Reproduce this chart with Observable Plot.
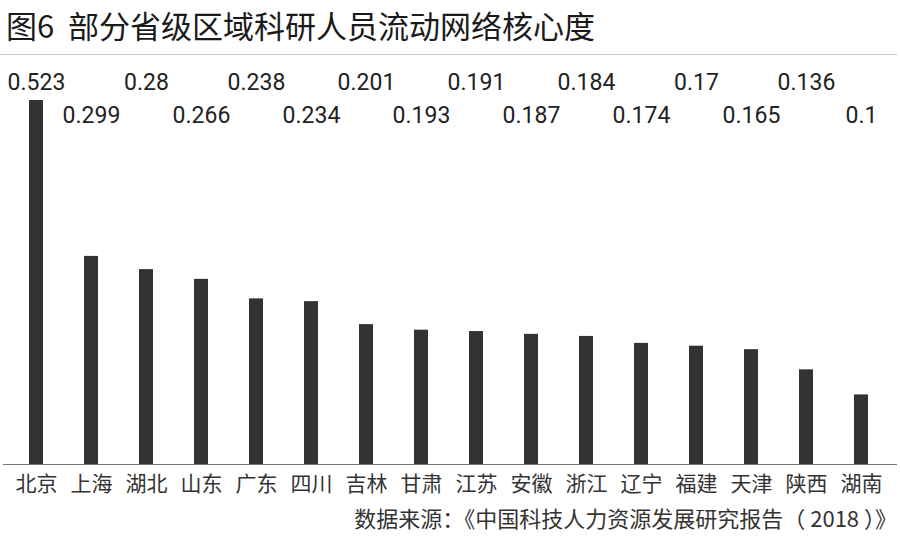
<!DOCTYPE html>
<html>
<head>
<meta charset="utf-8">
<script src="https://cdn.jsdelivr.net/npm/d3@7"></script>
<script src="https://cdn.jsdelivr.net/npm/@observablehq/plot@0.6"></script>
<style>
  body { margin: 0; background: #fff; width: 900px; height: 543px; overflow: hidden;
         font-family: "Noto Sans CJK SC", sans-serif; }
  #title { height: 54px; border-bottom: 1px solid #c9c9c9; margin-right: 3px;
           font-size: 31px; line-height: 50px; padding-left: 6px; color: #1a1a1a; font-weight: 400;
           white-space: nowrap; }
  #chart svg { display: block; }
  #caption { text-align: right; font-size: 22px; line-height: 24px; color: #333;
             padding-right: 3px; white-space: nowrap; }
</style>
</head>
<body>
<div id="title">图6&nbsp; 部分省级区域科研人员流动网络核心度</div>
<div id="chart"></div>
<div id="caption">数据来源：《中国科技人力资源发展研究报告（ 2018 ）》</div>
<script>
const provinces = ["北京","上海","湖北","山东","广东","四川","吉林","甘肃","江苏","安徽","浙江","辽宁","福建","天津","陕西","湖南"];
const coreness  = [0.523,0.299,0.28,0.266,0.238,0.234,0.201,0.193,0.191,0.187,0.184,0.174,0.17,0.165,0.136,0.1];

const data = provinces.map((name, i) => ({name, value: coreness[i], row: i % 2}));

const chart = Plot.plot({
  width: 900,
  height: 450,
  marginTop: 45,
  marginBottom: 41,
  marginLeft: 3,
  marginRight: 3,
  style: {fontFamily: "'Noto Sans CJK SC', sans-serif", fontSize: "21px", color: "#333", background: "transparent"},
  x: {domain: provinces, range: [8.5, 888.5], paddingInner: 0.745, paddingOuter: 0.3725, label: null},
  y: {domain: [0, d3.max(coreness)], axis: null},
  marks: [
    Plot.barY(data, {x: "name", y: "value", fill: "#333"}),
    Plot.ruleY([0], {stroke: "#777", strokeWidth: 1}),
    Plot.axisX({tickSize: 0, tickPadding: 12, fontSize: 21, label: null}),
    Plot.text(data.filter(d => d.row === 0), {x: "name", text: d => String(d.value), frameAnchor: "top", dy: -27,
      fontSize: 23, fontFamily: "Roboto", fill: "#222"}),
    Plot.text(data.filter(d => d.row === 1), {x: "name", text: d => String(d.value), frameAnchor: "top", dy: 6,
      fontSize: 23, fontFamily: "Roboto", fill: "#222"})
  ]
});
document.getElementById("chart").appendChild(chart);
</script>
</body>
</html>
